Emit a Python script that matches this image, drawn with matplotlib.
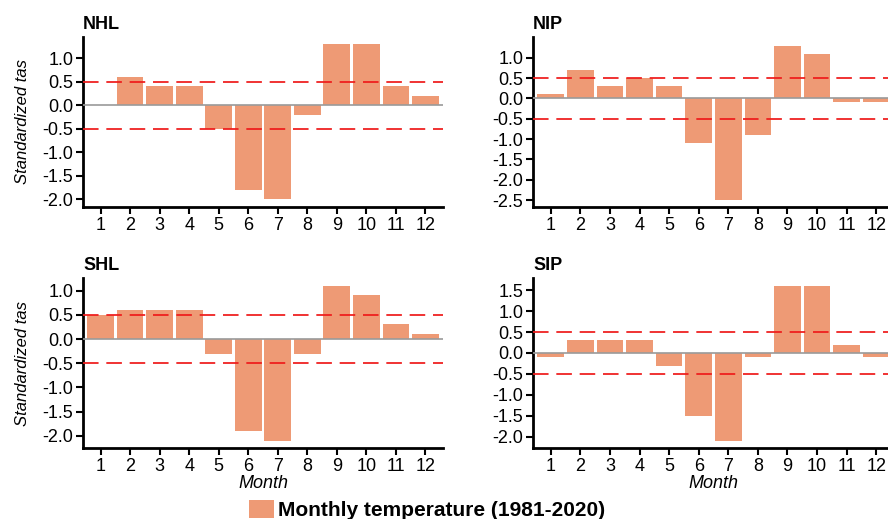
import numpy as np
import matplotlib
matplotlib.use('Agg')
import matplotlib.pyplot as plt
from matplotlib.patches import Patch

plt.rcParams['font.family'] = ['Liberation Sans', 'DejaVu Sans']

months = np.arange(1, 13)
month_labels = [str(m) for m in months]

nhl = [0.0, 0.6, 0.4, 0.4, -0.5, -1.8, -2.0, -0.2, 1.3, 1.3, 0.4, 0.2]
nip = [0.1, 0.7, 0.3, 0.5, 0.3, -1.1, -2.5, -0.9, 1.3, 1.1, -0.1, -0.1]
shl = [0.5, 0.6, 0.6, 0.6, -0.3, -1.9, -2.1, -0.3, 1.1, 0.9, 0.3, 0.1]
sip = [-0.1, 0.3, 0.3, 0.3, -0.3, -1.5, -2.1, -0.1, 1.6, 1.6, 0.2, -0.1]

titles = ['NHL', 'NIP', 'SHL', 'SIP']
series = [nhl, nip, shl, sip]
yticks = [np.arange(-2.0, 1.01, 0.5), np.arange(-2.5, 1.01, 0.5),
          np.arange(-2.0, 1.01, 0.5), np.arange(-2.0, 1.51, 0.5)]
ylims = [(-2.16, 1.45), (-2.67, 1.51), (-2.25, 1.26), (-2.27, 1.79)]

bar_color = '#EE9A75'
legend_label = 'Monthly temperature (1981-2020)'

W, H = 888, 519
fig = plt.figure(figsize=(W / 100, H / 100), dpi=100)

# axes boxes in pixels: left, right, top, bottom
boxes = [(83, 443, 37, 207), (533, 894, 37, 207),
         (83, 443, 278, 448), (533, 894, 278, 448)]

for i, (vals, title) in enumerate(zip(series, titles)):
    l, r, t, b = boxes[i]
    ax = fig.add_axes([l / W, (H - b) / H, (r - l) / W, (b - t) / H])
    ax.bar(months, vals, width=0.9, color=bar_color, zorder=2)
    ax.axhline(0, color='#9a9a9a', lw=1.2, zorder=3)
    for yv in (0.5, -0.5):
        ax.axhline(yv, color='#ee1c1c', lw=1.4, ls=(0, (8, 4)), alpha=0.9, zorder=4)
    ax.set_xlim(0.4, 12.6)
    ax.set_ylim(*ylims[i])
    ax.set_xticks(months)
    ax.set_xticklabels(month_labels)
    ax.set_yticks(yticks[i])
    ax.set_yticklabels(['%.1f' % v for v in yticks[i]])
    for s in ['top', 'right']:
        ax.spines[s].set_visible(False)
    for s in ['left', 'bottom']:
        ax.spines[s].set_linewidth(2)
    ax.tick_params(axis='both', direction='out', length=5, width=1.5, labelsize=13, pad=2)
    ax.set_title(title, loc='left', fontweight='bold', fontsize=13, pad=6)
    if i % 2 == 0:
        ax.set_ylabel('Standardized tas', fontstyle='italic', fontsize=12, labelpad=9)
    if i >= 2:
        ax.set_xlabel('Month', fontstyle='italic', fontsize=13, labelpad=0)

handles = [Patch(facecolor=bar_color, edgecolor='none')]
fig.legend(handles, [legend_label], loc='center', bbox_to_anchor=(427 / W, 1 - 510 / H),
           frameon=False, prop={'weight': 'bold', 'size': 15},
           handlelength=1.2, handleheight=1.0, handletextpad=0.2)

fig.savefig('out.png', dpi=100)
